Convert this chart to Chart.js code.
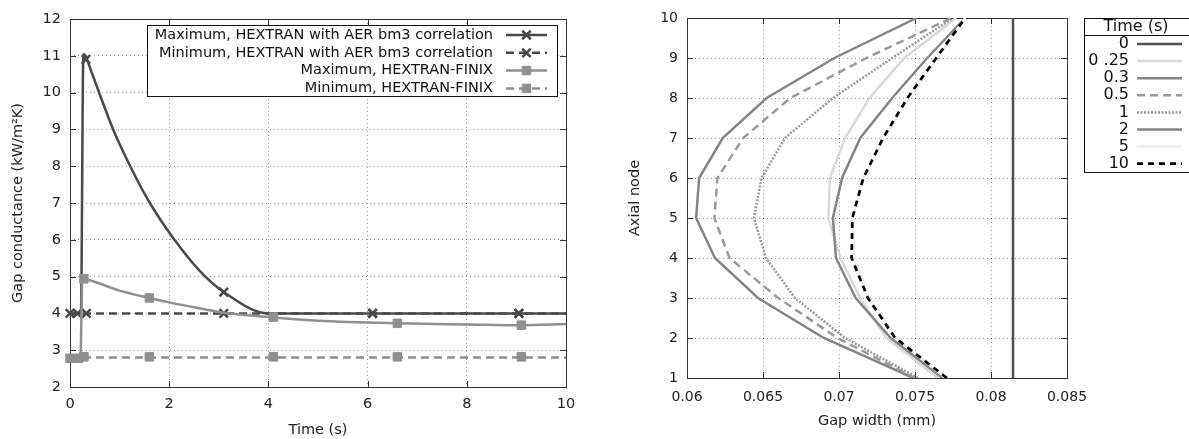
<!DOCTYPE html>
<html>
<head>
<meta charset="utf-8">
<script src="https://cdn.jsdelivr.net/npm/chart.js@4.4.1/dist/chart.umd.min.js"></script>
<style>
    html, body { margin: 0; padding: 0; background: #fff; }
    #wrap { position: relative; width: 1189px; height: 439px; overflow: hidden; }
    #gapCond { position: absolute; left: 0; top: 0; }
    #gapWidth { position: absolute; left: 590px; top: 0; }
</style>
</head>
<body>
<div id="wrap">
    <canvas id="gapCond" width="590" height="439"></canvas>
    <canvas id="gapWidth" width="599" height="439"></canvas>
</div>
<script>
// Left plot - gap conductance (kW/m2K) over time (s)
const hexMaxTime = [0, 0.22, 0.27, 0.45, 0.6, 0.9, 1.27, 1.61, 2.08, 2.62, 3.1, 4.0, 10];
const hexMaxValue = [4, 4, 11.05, 10.5, 9.95, 8.9, 7.85, 7.0, 6.05, 5.15, 4.58, 4.0, 4.0];
const hexMaxMarkTime = [0.32, 3.1, 6.1, 9.05];
const hexMaxMarkValue = [10.9, 4.58, 4, 4];

const hexMinTime = [0, 10];
const hexMinValue = [4, 4];
const hexMinMarkTime = [0, 0.15, 0.33, 3.1, 6.1, 9.05];
const hexMinMarkValue = [4, 4, 4, 4, 4, 4];

const finixMaxTime = [0, 0.21, 0.25, 0.3, 1.0, 1.6, 2.0, 2.6, 3.0, 4.0, 5.0, 6.6, 8.0, 9.1, 10];
const finixMaxValue = [2.8, 2.8, 4.95, 4.94, 4.62, 4.42, 4.3, 4.14, 4.04, 3.9, 3.8, 3.73, 3.7, 3.68, 3.71];
const finixMaxMarkTime = [0.28, 1.6, 4.1, 6.6, 9.1];
const finixMaxMarkValue = [4.94, 4.42, 3.9, 3.73, 3.68];

const finixMinTime = [0, 10];
const finixMinValue = [2.8, 2.8];
const finixMinMarkTime = [0, 0.17, 0.28, 1.6, 4.1, 6.6, 9.1];
const finixMinMarkValue = [2.78, 2.78, 2.82, 2.82, 2.82, 2.82, 2.82];

const condLabels = [
    'Maximum, HEXTRAN with AER bm3 correlation',
    'Minimum, HEXTRAN with AER bm3 correlation',
    'Maximum, HEXTRAN-FINIX',
    'Minimum, HEXTRAN-FINIX'
];

// Right plot - gap width (mm) per axial node, one profile per time
const axialNodes = [1, 2, 3, 4, 5, 6, 7, 8, 9, 10];
const width_0 = [0.08145, 0.08145, 0.08145, 0.08145, 0.08145, 0.08145, 0.08145, 0.08145, 0.08145, 0.08145];
const width_025 = [0.0765, 0.0731, 0.0714, 0.0701, 0.0693, 0.0694, 0.0704, 0.0720, 0.0743, 0.0777];
const width_03 = [0.0749, 0.0690, 0.06467, 0.06184, 0.0606, 0.0608, 0.06235, 0.06524, 0.0697, 0.0751];
const width_05 = [0.0750, 0.0699, 0.0660, 0.0628, 0.0618, 0.0620, 0.0637, 0.0668, 0.0718, 0.0774];
const width_1 = [0.0752, 0.0704, 0.0671, 0.0652, 0.0644, 0.0649, 0.06645, 0.0696, 0.0735, 0.0775];
const width_2 = [0.0768, 0.0734, 0.0711, 0.0698, 0.0696, 0.0702, 0.0714, 0.0735, 0.0758, 0.0783];
const width_5 = [0.0770, 0.0738, 0.0720, 0.0710, 0.0709, 0.0716, 0.0730, 0.0746, 0.0765, 0.0783];
const width_10 = [0.0771, 0.0737, 0.0719, 0.07083, 0.07088, 0.0716, 0.0729, 0.0745, 0.0764, 0.0783];
const timeLabels = ['0', '0 .25', '0.3', '0.5', '1', '2', '5', '10'];
const gapTickLabels = ['0.06', '0.065', '0.07', '0.075', '0.08', '0.085'];

const FONT = 'DejaVu Sans, Verdana, sans-serif';
const DARK = '#494949';
const MID = '#8f8f8f';

function pairs(xs, ys) {
    return xs.map((x, i) => ({ x: x, y: ys[i] }));
}

// Border box with gnuplot style inner tick marks
const frameTicks = {
    id: 'frameTicks',
    beforeDatasetsDraw(chart) {
        const { ctx, chartArea: a, scales } = chart;
        ctx.save();
        ctx.strokeStyle = '#333';
        ctx.lineWidth = 1;
        ctx.setLineDash([]);
        ctx.strokeRect(Math.round(a.left) + 0.5, Math.round(a.top) + 0.5,
            Math.round(a.right - a.left), Math.round(a.bottom - a.top));
        ctx.beginPath();
        scales.x.ticks.forEach((t, i) => {
            const px = Math.round(scales.x.getPixelForTick(i)) + 0.5;
            ctx.moveTo(px, a.bottom); ctx.lineTo(px, a.bottom - 6);
            ctx.moveTo(px, a.top); ctx.lineTo(px, a.top + 6);
        });
        scales.y.ticks.forEach((t, i) => {
            const py = Math.round(scales.y.getPixelForTick(i)) + 0.5;
            ctx.moveTo(a.left, py); ctx.lineTo(a.left + 6, py);
            ctx.moveTo(a.right, py); ctx.lineTo(a.right - 6, py);
        });
        ctx.stroke();
        ctx.restore();
    }
};

// Boxed legend: right aligned text followed by a line sample
const boxLegend = {
    id: 'boxLegend',
    afterDraw(chart, args, o) {
        const ctx = chart.ctx;
        const entries = chart.data.datasets.filter(ds => ds.legendText);
        ctx.save();
        ctx.fillStyle = '#fff';
        ctx.fillRect(o.box[0], o.box[1], o.box[2] - o.box[0], o.box[3] - o.box[1]);
        ctx.strokeStyle = '#111';
        ctx.lineWidth = 1;
        ctx.strokeRect(o.box[0] + 0.5, o.box[1] + 0.5, o.box[2] - o.box[0], o.box[3] - o.box[1]);
        ctx.font = o.fontSize + 'px ' + FONT;
        ctx.textBaseline = 'middle';
        if (o.title) {
            ctx.fillStyle = '#111';
            ctx.textAlign = 'center';
            ctx.fillText(o.title, o.titleX, o.titleY);
            ctx.beginPath();
            ctx.moveTo(o.box[0], o.titleLine + 0.5);
            ctx.lineTo(o.box[2], o.titleLine + 0.5);
            ctx.stroke();
        }
        entries.forEach((ds, i) => {
            const y = o.rowTop + i * o.rowStep;
            ctx.fillStyle = '#111';
            ctx.textAlign = 'right';
            ctx.fillText(ds.legendText, o.textRight, y);
            ctx.strokeStyle = ds.borderColor;
            ctx.lineWidth = ds.borderWidth;
            ctx.setLineDash(ds.borderDash || []);
            ctx.beginPath();
            ctx.moveTo(o.lineFrom, y);
            ctx.lineTo(o.lineTo, y);
            ctx.stroke();
            ctx.setLineDash([]);
            if (ds.markerStyle) {
                const bw = ds.markerStyle === 'rect' ? 1 : 2.5;
                ctx.fillStyle = ds.borderColor;
                ctx.lineWidth = bw;
                Chart.helpers.drawPoint(ctx, { pointStyle: ds.markerStyle, radius: ds.markerRadius, borderWidth: bw, rotation: 0 },
                    (o.lineFrom + o.lineTo) / 2, y);
            }
        });
        ctx.restore();
    }
};

function lineSet(label, xs, ys, color, dash, marker, radius) {
    return {
        legendText: label,
        data: pairs(xs, ys),
        showLine: true,
        borderColor: color,
        backgroundColor: color,
        borderWidth: 2.5,
        borderDash: dash,
        pointRadius: 0,
        pointHoverRadius: 0,
        cubicInterpolationMode: 'monotone',
        markerStyle: marker,
        markerRadius: radius
    };
}

function markSet(xs, ys, color, style, radius) {
    return {
        data: pairs(xs, ys),
        showLine: false,
        pointStyle: style,
        pointRadius: radius,
        pointBorderWidth: style === 'rect' ? 1 : 2.5,
        pointBackgroundColor: color,
        pointBorderColor: color,
        clip: false
    };
}

function axisTitle(text, pad) {
    return { display: true, text: text, color: '#222', font: { family: FONT, size: 14.5 }, padding: pad };
}

// gnuplot draws later curves on top, Chart.js draws lower order on top
const condSets = [
    lineSet(condLabels[0], hexMaxTime, hexMaxValue, DARK, [], 'crossRot', 6),
    markSet(hexMaxMarkTime, hexMaxMarkValue, DARK, 'crossRot', 6),
    lineSet(condLabels[1], hexMinTime, hexMinValue, DARK, [8, 5], 'crossRot', 6),
    markSet(hexMinMarkTime, hexMinMarkValue, DARK, 'crossRot', 6),
    lineSet(condLabels[2], finixMaxTime, finixMaxValue, MID, [], 'rect', 6),
    markSet(finixMaxMarkTime, finixMaxMarkValue, MID, 'rect', 6),
    lineSet(condLabels[3], finixMinTime, finixMinValue, MID, [8, 5], 'rect', 6),
    markSet(finixMinMarkTime, finixMinMarkValue, MID, 'rect', 6)
];
condSets.forEach((ds, i) => { ds.order = condSets.length - i; });

new Chart(document.getElementById('gapCond'), {
    type: 'scatter',
    data: { datasets: condSets },
    options: {
        responsive: false,
        devicePixelRatio: 1,
        animation: false,
        layout: { padding: { top: 19, right: 24, left: 0, bottom: 0 } },
        plugins: {
            legend: { display: false },
            tooltip: { enabled: false },
            boxLegend: {
                box: [147, 25, 557, 96], fontSize: 14.5,
                textRight: 493, lineFrom: 506, lineTo: 547, rowTop: 35, rowStep: 17.8
            }
        },
        scales: {
            x: {
                type: 'linear', min: 0, max: 10,
                ticks: { stepSize: 2, padding: 9, color: '#222', font: { family: FONT, size: 14.5 }, maxRotation: 0 },
                grid: { color: 'rgba(0,0,0,0.4)', lineWidth: 1, drawTicks: false },
                border: { display: false, dash: [1, 3] },
                title: axisTitle('Time (s)', { top: 0, bottom: 0 }),
                afterFit: s => { s.height = 52; }
            },
            y: {
                type: 'linear', min: 2, max: 12,
                ticks: { stepSize: 1, padding: 9, color: '#222', font: { family: FONT, size: 14.5 } },
                grid: { color: 'rgba(0,0,0,0.4)', lineWidth: 1, drawTicks: false },
                border: { display: false, dash: [1, 3] },
                title: axisTitle('Gap conductance (kW/m\u00B2K)', { top: 10, bottom: 0 }),
                afterFit: s => { s.width = 70; }
            }
        }
    },
    plugins: [frameTicks, boxLegend]
});

function profile(label, widths, color, dash, lw) {
    return {
        legendText: label,
        data: pairs(widths, axialNodes),
        showLine: true,
        borderColor: color,
        borderWidth: lw,
        borderDash: dash,
        pointRadius: 0,
        pointHoverRadius: 0,
        tension: 0
    };
}

const widthSets = [
    profile(timeLabels[0], width_0, '#4f4f4f', [], 2.5),
    profile(timeLabels[1], width_025, '#d9d9d9', [], 2.5),
    profile(timeLabels[2], width_03, '#858585', [], 2.5),
    profile(timeLabels[3], width_05, '#9a9a9a', [8, 5], 2.5),
    profile(timeLabels[4], width_1, '#999999', [2, 1.5], 2.5),
    profile(timeLabels[5], width_2, '#858585', [], 2.5),
    profile(timeLabels[6], width_5, '#efefef', [], 2.5),
    profile(timeLabels[7], width_10, '#000000', [6, 5], 2.7)
];
widthSets.forEach((ds, i) => { ds.order = widthSets.length - i; });

new Chart(document.getElementById('gapWidth'), {
    type: 'scatter',
    data: { datasets: widthSets },
    options: {
        responsive: false,
        devicePixelRatio: 1,
        animation: false,
        layout: { padding: { top: 18, right: 122, left: 0, bottom: 0 } },
        plugins: {
            legend: { display: false },
            tooltip: { enabled: false },
            boxLegend: {
                box: [494, 18, 605, 172], fontSize: 16,
                title: 'Time (s)', titleX: 546, titleY: 27, titleLine: 35,
                textRight: 539, lineFrom: 547, lineTo: 592, rowTop: 44, rowStep: 17.1
            }
        },
        scales: {
            x: {
                type: 'linear', min: 0.06, max: 0.085,
                ticks: {
                    stepSize: 0.005, padding: 11, color: '#222', font: { family: FONT, size: 14 }, maxRotation: 0,
                    callback: (v, i) => gapTickLabels[i]
                },
                grid: { color: 'rgba(0,0,0,0.4)', lineWidth: 1, drawTicks: false },
                border: { display: false, dash: [1, 3] },
                title: axisTitle('Gap width (mm)', { top: 0, bottom: 9 }),
                afterFit: s => { s.height = 61; }
            },
            y: {
                type: 'linear', min: 1, max: 10,
                ticks: { stepSize: 1, padding: 9, color: '#222', font: { family: FONT, size: 14 } },
                grid: { color: 'rgba(0,0,0,0.4)', lineWidth: 1, drawTicks: false },
                border: { display: false, dash: [1, 3] },
                title: axisTitle('Axial node', { top: 37, bottom: 0 }),
                afterFit: s => { s.width = 97; }
            }
        }
    },
    plugins: [frameTicks, boxLegend]
});
</script>
</body>
</html>
